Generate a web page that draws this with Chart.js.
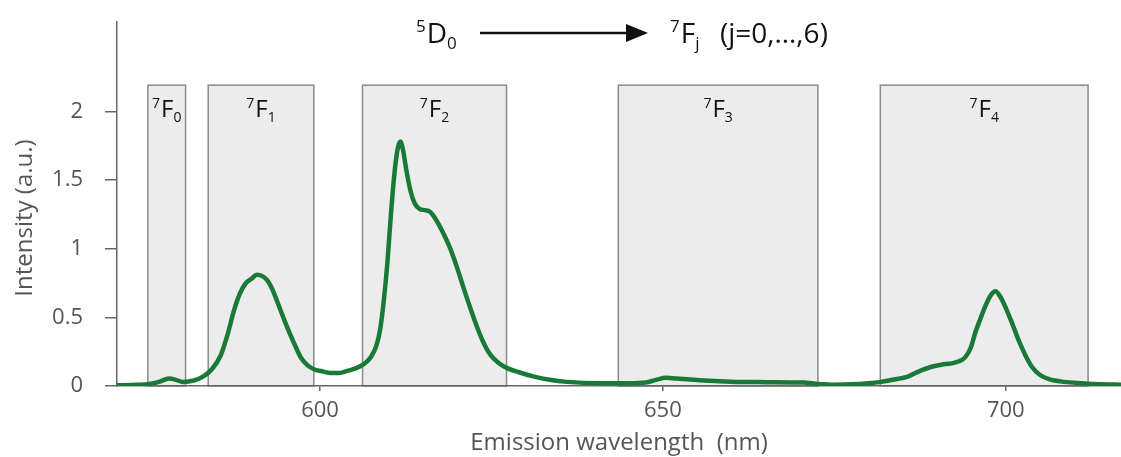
<!DOCTYPE html>
<html>
<head>
<meta charset="utf-8">
<script src="https://cdn.jsdelivr.net/npm/chart.js@4/dist/chart.umd.min.js"></script>
<style>
  html, body { margin: 0; padding: 0; background: #fff; }
  #wrap { width: 1121px; height: 457px; }
</style>
</head>
<body>
<div id="wrap"><canvas id="myChart" width="1121" height="457"></canvas></div>
<script>
/* ===== DATA ===== */
const wavelength = [
  570.4, 572.5, 574.8, 576.5, 578.0, 579.0, 580.0, 581.6, 583.0, 584.2,
  585.5, 586.5, 587.4, 588.3, 589.2, 590.0, 590.8, 591.6, 592.3, 593.0,
  593.8, 594.8, 595.7, 596.5, 597.3, 598.2, 599.2, 600.5, 601.5, 602.8,
  604.0, 605.3, 606.4, 607.4, 608.2, 608.8, 609.3, 609.8, 610.3, 610.8,
  611.3, 611.7, 612.1, 612.6, 613.2, 613.8, 614.5, 615.3, 616.0, 616.8,
  617.8, 619.0, 620.0, 620.9, 621.9, 622.9, 623.8, 624.8, 626.0, 627.3,
  629.0, 631.1, 633.5, 636.0, 640.9, 645.0, 647.5, 649.0, 650.5, 652.0,
  653.5, 656.0, 660.7, 665.0, 670.5, 672.6, 675.0, 677.5, 680.0, 681.8,
  683.5, 685.8, 687.5, 689.2, 690.6, 692.1, 693.2, 694.1, 694.9, 695.5,
  696.3, 697.0, 697.8, 698.5, 699.2, 699.9, 700.9, 701.9, 702.8, 703.8,
  705.0, 706.3, 708.5, 711.1, 714.0, 716.8
];
const intensity = [
  0.005, 0.008, 0.012, 0.03, 0.055, 0.045, 0.03, 0.04, 0.07, 0.12,
  0.22, 0.37, 0.54, 0.67, 0.75, 0.78, 0.81, 0.80, 0.77, 0.71,
  0.61, 0.48, 0.37, 0.28, 0.20, 0.15, 0.12, 0.105, 0.095, 0.095,
  0.11, 0.13, 0.16, 0.21, 0.29, 0.42, 0.62, 0.88, 1.22, 1.52,
  1.72, 1.78, 1.72, 1.57, 1.42, 1.33, 1.29, 1.28, 1.27, 1.22,
  1.13, 1.00, 0.86, 0.72, 0.57, 0.43, 0.32, 0.23, 0.17, 0.13,
  0.10, 0.07, 0.045, 0.03, 0.02, 0.02, 0.025, 0.045, 0.06, 0.055,
  0.05, 0.04, 0.03, 0.028, 0.025, 0.015, 0.01, 0.012, 0.02, 0.03,
  0.045, 0.07, 0.11, 0.14, 0.155, 0.165, 0.18, 0.21, 0.28, 0.38,
  0.49, 0.58, 0.66, 0.69, 0.65, 0.58, 0.46, 0.33, 0.23, 0.14,
  0.08, 0.05, 0.03, 0.02, 0.012, 0.01
];

// 7F_j bands (shaded boxes)
const bandLabels = ['0', '1', '2', '3', '4'];
const bandStart = [574.9, 583.7, 606.2, 643.5, 681.7];
const bandEnd = [580.4, 599.1, 627.2, 672.6, 712.0];
const bandTop = 2.19;

const xTicks = [600, 650, 700];
const yTicks = [0, 0.5, 1, 1.5, 2];

const FONT = '"Open Sans", "Noto Sans", sans-serif';

// draw text with superscript / subscript pieces
function drawRich(ctx, parts, x, y, size, align) {
    const small = Math.round(size * 0.6);
    let w = 0;
    parts.forEach(p => {
        ctx.font = (p.s ? small : size) + 'px ' + FONT;
        p.w = ctx.measureText(p.t).width + (p.gap || 0);
        w += p.w;
    });
    let cx = align === 'center' ? x - w / 2 : x;
    ctx.textAlign = 'left';
    ctx.textBaseline = 'alphabetic';
    parts.forEach(p => {
        ctx.font = (p.s ? small : size) + 'px ' + FONT;
        let dy = 0;
        if (p.s === 'sup') dy = -size * 0.38;
        if (p.s === 'sub') dy = size * 0.22;
        ctx.fillText(p.t, cx, y + dy);
        cx += p.w;
    });
}

/* ===== BANDS + LABELS PLUGIN ===== */
const bandsPlugin = {
    id: 'bands',
    beforeDraw(chart) {
        const ctx = chart.ctx;
        const xs = chart.scales.x, ys = chart.scales.y;
        ctx.save();
        for (let i = 0; i < bandLabels.length; i++) {
            const x0 = xs.getPixelForValue(bandStart[i]);
            const x1 = xs.getPixelForValue(bandEnd[i]);
            const y0 = ys.getPixelForValue(bandTop);
            const y1 = ys.getPixelForValue(0);
            ctx.fillStyle = '#ececec';
            ctx.fillRect(x0, y0, x1 - x0, y1 - y0);
            ctx.strokeStyle = '#8a8a8a';
            ctx.lineWidth = 1.5;
            ctx.strokeRect(x0, y0, x1 - x0, y1 - y0);
            ctx.fillStyle = '#111';
            drawRich(ctx, [{t: '7', s: 'sup', gap: 1}, {t: 'F'}, {t: bandLabels[i], s: 'sub'}],
                (x0 + x1) / 2, y0 + 32, 24, 'center');
        }
        ctx.restore();
    },
    afterDraw(chart) {
        const ctx = chart.ctx;
        const area = chart.chartArea;
        ctx.save();
        // title: 5D0 -> 7Fj (j=0,...,6)
        ctx.fillStyle = '#111';
        drawRich(ctx, [{t: '5', s: 'sup', gap: 1}, {t: 'D'}, {t: '0', s: 'sub'}], 416, 43, 28, 'left');
        drawRich(ctx, [{t: '7', s: 'sup', gap: 1}, {t: 'F'}, {t: 'j', s: 'sub'}], 670, 43, 28, 'left');
        ctx.font = '28px ' + FONT;
        ctx.fillText('(j=0,…,6)', 720, 43);
        // arrow
        ctx.strokeStyle = '#111';
        ctx.lineWidth = 2.5;
        ctx.beginPath();
        ctx.moveTo(480, 33);
        ctx.lineTo(632, 33);
        ctx.stroke();
        ctx.beginPath();
        ctx.moveTo(648, 33);
        ctx.lineTo(626, 24);
        ctx.lineTo(626, 42);
        ctx.closePath();
        ctx.fill();
        // axis titles
        ctx.fillStyle = '#555';
        ctx.font = '24px ' + FONT;
        ctx.textAlign = 'center';
        ctx.textBaseline = 'middle';
        ctx.fillText('Emission wavelength  (nm)', (area.left + area.right) / 2, 443);
        ctx.translate(25, 218);
        ctx.rotate(-Math.PI / 2);
        ctx.fillText('Intensity (a.u.)', 0, 0);
        ctx.restore();
    }
};

/* ===== CHART ===== */
const myChart = document.getElementById('myChart').getContext('2d');

const spectrum = new Chart(myChart, {
    type: 'line',
    data: {
        datasets: [{
            data: wavelength.map((w, i) => ({x: w, y: intensity[i]})),
            borderColor: '#187a36',
            borderWidth: 4.5,
            pointRadius: 0,
            fill: false,
            cubicInterpolationMode: 'monotone',
        }],
    },
    options: {
        responsive: false,
        animation: false,
        devicePixelRatio: 1,
        layout: { padding: { top: 22, right: 0, left: 0, bottom: 0 } },
        plugins: {
            legend: { display: false },
            tooltip: { enabled: false },
        },
        scales: {
            x: {
                type: 'linear',
                min: 570.4,
                max: 716.8,
                afterBuildTicks: s => { s.ticks = xTicks.map(v => ({value: v})); },
                afterFit: s => { s.height = 71; s.paddingLeft = 0; s.paddingRight = 0; },
                grid: { drawOnChartArea: false, tickLength: 5, color: '#666', lineWidth: 1.5 },
                border: { color: '#666', width: 1.5 },
                ticks: { color: '#555', font: { family: FONT, size: 22 }, padding: 7, callback: v => String(v) },
            },
            y: {
                min: 0,
                max: 2.65,
                afterBuildTicks: s => { s.ticks = yTicks.map(v => ({value: v})); },
                afterFit: s => { s.width = 117; s.paddingTop = 0; s.paddingBottom = 0; },
                grid: { drawOnChartArea: false, tickLength: 12, color: '#666', lineWidth: 1.5 },
                border: { color: '#666', width: 1.5 },
                ticks: { color: '#555', font: { family: FONT, size: 22 }, padding: 22, callback: v => String(v) },
            },
        },
    },
    plugins: [bandsPlugin],
});
</script>
</body>
</html>
